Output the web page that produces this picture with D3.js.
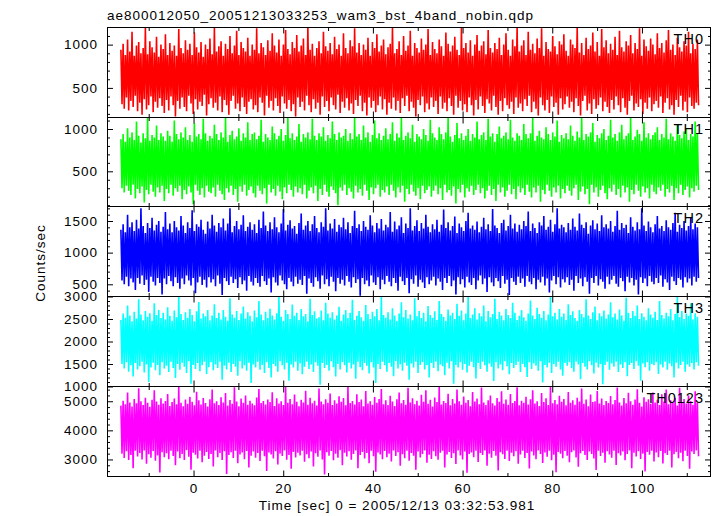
<!DOCTYPE html>
<html><head><meta charset="utf-8">
<script src="https://cdn.jsdelivr.net/npm/d3@7"></script>
<style>
body{margin:0;background:#fff;}
svg text{font-family:"Liberation Sans",Arial,Helvetica,sans-serif;fill:#000;}
</style>
</head><body>
<svg id="chart" width="717" height="516"></svg>
<script>
// ---------------- data ----------------
const titleText = "ae800012050_20051213033253_wam3_bst_4band_nobin.qdp";
const xLabelText = "Time [sec] 0 = 2005/12/13 03:32:53.981";
const yLabelText = "Counts/sec";
const panelNames = ["TH0", "TH1", "TH2", "TH3", "TH0123"];
const panelColors = ["#ff0000", "#00ff00", "#0000ff", "#00ffff", "#ff00ff"];
const xDomain = [-19.3, 115.4];
const xTickValues = [0, 20, 40, 60, 80, 100];
const xMinorValues = [-10, 10, 30, 50, 70, 90, 110];
const yDomains = [[158, 1198], [84, 1136], [307, 1729], [1000, 3000], [2414, 5507]];
const yTickValues = [[500, 1000], [500, 1000], [500, 1000, 1500], [1000, 1500, 2000, 2500, 3000], [3000, 4000, 5000]];
const yMinorStep = [100, 100, 100, 100, 200];
// samples: start time and spacing (sec)
const tStart = -16.2;
const tStep = 0.2482;

const th0 = [
940,310,1010,260,880,390,1060,240,920,350,1150,280,870,410,990,230,1030,330,900,190,960,370,1200,250,890,300,1040,400,970,220,910,340,1090,270,860,380,1000,290,950,210,
1120,360,880,240,1020,400,930,300,990,170,870,350,1180,260,960,390,900,280,1050,230,940,410,1010,320,880,200,1140,370,970,250,910,340,1030,290,860,420,1000,180,950,310,
1070,380,890,270,1200,330,920,240,980,400,1040,220,870,360,1010,300,950,190,1100,350,900,410,990,260,1160,320,880,230,1030,390,960,280,920,200,1080,340,870,370,1000,250,
940,300,1190,220,900,390,1020,330,970,180,880,410,1050,270,930,350,1130,240,990,380,910,290,1060,210,870,400,1000,320,1170,260,950,360,890,230,1030,310,960,170,1110,390,
920,280,990,340,1070,240,880,410,1200,300,940,220,1010,370,870,260,960,330,1040,190,900,400,1150,280,980,350,930,230,1020,390,890,300,1090,250,950,420,1000,210,870,340,
1130,270,960,380,900,240,1050,320,980,200,1190,360,910,290,1020,410,880,230,1000,330,940,180,1080,390,870,270,1030,350,960,220,1120,300,920,400,990,250,1060,370,890,190,
970,330,1010,260,1200,390,900,240,950,350,1040,210,880,380,1100,290,930,410,990,230,1160,340,870,270,1020,170,960,360,910,300,1070,400,940,220,1000,320,1180,250,880,390,
1030,280,950,350,900,200,1060,400,980,260,870,330,1140,230,1010,380,920,290,990,190,1090,410,940,270,880,350,1200,240,960,310,1020,220,910,390,1050,300,870,180,1000,360,
1110,250,930,400,990,290,1040,210,890,370,1170,320,960,240,910,410,1020,280,950,190,1080,350,880,230,1000,380,1130,300,940,260,870,340,1060,200,980,390,1200,270,920,320,
990,230,1050,370,880,290,1150,410,940,220,1010,340,900,260,1070,180,960,390,1190,300,870,240,1030,360,950,210,920,400,1100,280,980,330,890,190,1040,380,1000,250,1120,310,
930,400,870,270,1060,340,1000,220,960,380,1200,290,910,180,1020,350,880,410,1080,240,950,320,990,200,1140,370,920,260,1030,300,870,390,1180,230,970,340,1050,280,900,210,
1010,360,940,250,1090,400,880,300,1160,220,970,380,920,270,1040,190,990,350,1110,410,900,240,1020,320,950,280,1190,370,870,200,1060,330,980,260,930,390,1070,230,1000,310,
890,350,1130,270,960,400,1020,210,910,330,1050,380,1170,250,940,300,1000,190,880,360,1080,280,970,410,920,240,1040,340,990,220,1150,390,900,290,1010,260,950,330,1060,300
];
const th1 = [
880,300,940,250,850,330,1010,270,900,220,960,340,870,180,1090,290,920,240,840,320,950,130,890,280,1130,230,860,340,930,260,900,200,1040,310,870,250,950,330,910,150,
860,290,980,240,920,340,850,210,1100,300,940,260,880,330,960,170,900,280,1020,230,870,320,930,250,850,110,1070,340,910,270,940,220,880,300,1120,190,950,330,860,260,
920,240,890,310,1050,200,940,340,870,270,960,230,900,160,1130,300,850,250,930,330,980,220,880,290,910,140,1010,320,860,260,950,340,900,210,1080,280,870,320,940,240,
960,190,880,330,920,270,1110,230,850,300,940,120,900,340,870,250,1030,290,950,210,880,330,920,260,1000,170,860,310,930,240,1130,340,890,280,950,200,870,320,910,250,
1060,300,850,230,940,340,900,180,960,270,880,310,1120,240,920,330,870,150,950,290,910,220,1020,340,860,260,930,200,890,320,1090,280,940,240,870,100,960,310,900,270,
920,340,1000,220,860,300,950,260,880,180,1130,330,910,250,940,290,870,210,1040,340,900,270,960,160,850,310,930,230,1100,300,890,340,950,200,870,280,920,250,1010,320,
880,220,940,340,1080,270,860,190,950,310,900,250,1130,330,870,140,920,290,960,230,890,340,1050,260,850,210,940,300,910,170,880,330,1000,240,930,280,860,320,1110,200,
950,270,900,330,870,230,1020,300,940,160,880,340,960,250,1130,280,910,210,850,320,930,120,1070,290,890,250,950,340,870,190,920,300,1000,260,860,330,940,220,900,280,
1090,340,880,240,930,300,960,180,870,270,1120,330,910,220,950,290,850,150,940,340,1030,250,890,310,920,200,960,270,880,340,1110,230,900,290,860,170,950,320,920,250,
870,300,1060,220,940,340,890,260,950,190,1130,310,860,250,920,330,980,140,900,280,880,230,1020,340,940,270,870,200,960,310,910,250,1100,330,850,180,930,290,890,240,
950,330,880,270,1040,210,920,300,860,340,970,160,900,260,1130,320,870,230,940,290,910,110,960,340,1070,250,850,310,930,200,890,280,950,330,1000,240,870,170,920,300,
1110,260,900,340,940,220,860,290,960,190,1050,330,880,250,920,310,950,140,1130,280,870,230,910,340,990,270,940,200,860,320,1080,250,900,300,950,180,880,340,930,260,
960,230,1020,310,870,270,940,340,900,200,1120,290,880,250,950,330,910,160,860,300,1060,240,930,340,890,220,970,280,1000,320,870,190,940,300,910,260,1090,330,950,280
];
const th2 = [
1360,560,1450,500,1320,620,1600,470,1400,590,1480,530,1340,410,1520,600,1380,510,1700,640,1420,490,1310,570,1470,380,1390,620,1550,540,1350,480,1440,600,1500,520,1330,340,1410,590,
1640,500,1370,630,1460,550,1320,470,1500,610,1400,520,1350,430,1580,590,1430,500,1310,640,1480,560,1390,480,1670,600,1340,360,1450,530,1410,620,1520,490,1360,570,1300,450,1490,610,
1380,530,1600,580,1430,470,1330,640,1470,510,1400,330,1540,600,1350,550,1460,490,1700,620,1320,520,1420,580,1500,440,1370,610,1440,500,1590,560,1340,400,1410,630,1480,540,1360,480,
1450,600,1310,520,1520,460,1390,630,1650,550,1430,490,1340,590,1480,370,1370,610,1560,530,1400,480,1320,640,1460,560,1690,500,1350,420,1440,600,1510,540,1380,470,1420,620,1300,510,
1470,570,1620,490,1360,630,1430,350,1500,590,1340,520,1450,460,1580,610,1390,550,1320,430,1480,640,1410,500,1700,580,1350,470,1460,620,1380,540,1530,390,1330,600,1440,510,1400,570,
1550,480,1370,630,1480,540,1310,450,1420,610,1660,520,1390,580,1450,320,1340,600,1500,500,1410,560,1360,470,1590,640,1430,530,1320,490,1470,610,1380,420,1530,570,1350,500,1440,630,
1400,540,1640,470,1330,600,1490,520,1370,400,1430,620,1560,550,1310,490,1460,600,1390,360,1700,580,1350,510,1420,640,1510,460,1340,570,1470,530,1380,440,1600,610,1410,500,1320,560,
1450,620,1370,480,1520,590,1330,540,1440,410,1680,600,1390,520,1480,630,1350,470,1420,560,1570,340,1310,610,1460,500,1400,580,1340,450,1500,620,1630,530,1380,490,1430,600,1360,420,
1490,560,1320,640,1410,500,1550,590,1370,380,1450,610,1340,530,1690,470,1430,600,1390,550,1310,440,1470,630,1520,510,1350,570,1420,330,1600,600,1380,540,1460,490,1330,620,1440,520,
1370,590,1500,460,1420,630,1650,540,1340,500,1460,600,1390,420,1310,570,1480,530,1430,620,1580,480,1360,590,1410,370,1520,560,1330,630,1450,500,1700,610,1380,450,1440,580,1400,530,
1320,610,1470,490,1360,570,1540,400,1410,630,1350,520,1620,590,1440,470,1390,610,1480,540,1300,350,1430,600,1510,520,1370,630,1460,480,1340,580,1590,540,1400,430,1450,620,1380,500,
1500,570,1330,630,1420,510,1660,460,1360,600,1470,550,1390,390,1440,620,1310,530,1560,600,1410,480,1350,570,1480,340,1370,610,1700,520,1430,590,1340,470,1490,630,1400,540,1320,500,
1450,600,1580,520,1380,640,1420,460,1340,580,1510,530,1400,410,1360,620,1470,550,1630,490,1330,600,1440,570,1390,450,1500,610,1350,530,1420,590,1560,480,1370,620,1460,540,1400,600
];
const th3 = [
2480,1500,2620,1400,2530,1540,2800,1330,2580,1470,2450,1220,2660,1520,2510,1380,2940,1450,2600,1550,2470,1310,2680,1490,2550,1100,2630,1420,2460,1530,2850,1360,2590,1480,2700,1250,2520,1540,2640,1400,
2490,1460,2760,1320,2570,1550,2460,1410,2690,1190,2540,1500,2990,1370,2610,1530,2480,1440,2650,1300,2530,1560,2720,1060,2590,1480,2450,1390,2670,1520,2880,1340,2510,1470,2620,1550,2560,1280,2700,1430,
2470,1540,2580,1360,2830,1490,2520,1410,2640,1550,2490,1150,2700,1460,2550,1380,2460,1530,2960,1320,2600,1500,2530,1440,2680,1240,2480,1560,2620,1400,2780,1470,2510,1350,2650,1530,2570,1080,2450,1490,
2690,1420,2540,1550,2900,1370,2600,1480,2470,1300,2660,1540,2520,1410,2730,1200,2580,1500,2490,1450,2630,1330,3000,1560,2550,1470,2460,1380,2700,1530,2610,1130,2500,1490,2820,1420,2570,1550,2640,1350,
2480,1510,2720,1270,2560,1440,2610,1550,2450,1390,2950,1490,2590,1320,2670,1540,2510,1460,2540,1040,2690,1520,2470,1410,2860,1480,2620,1350,2530,1560,2650,1430,2490,1220,2580,1500,2770,1380,2460,1540,
2600,1470,2700,1310,2520,1530,2640,1400,2930,1490,2480,1170,2570,1550,2680,1430,2540,1360,2460,1520,2810,1460,2610,1290,2500,1540,2660,1420,2560,1080,2720,1500,2470,1390,2990,1550,2590,1470,2530,1330,
2650,1520,2490,1440,2740,1230,2580,1560,2460,1400,2620,1490,2870,1350,2540,1530,2700,1460,2510,1150,2600,1510,2470,1420,2960,1550,2560,1300,2680,1480,2520,1540,2640,1380,2450,1470,2790,1200,2590,1520,
2530,1410,2670,1550,2480,1340,2900,1490,2610,1450,2550,1250,2460,1530,2710,1400,2580,1560,2640,1060,2500,1480,2840,1420,2570,1540,2690,1370,2470,1500,2620,1310,3000,1460,2520,1550,2600,1430,2740,1180,
2490,1520,2630,1390,2560,1550,2800,1470,2450,1330,2680,1510,2540,1440,2610,1120,2950,1540,2500,1400,2660,1490,2580,1360,2470,1560,2720,1450,2590,1270,2520,1520,2860,1410,2640,1480,2480,1550,2570,1320,
2700,1500,2540,1430,2460,1210,2620,1540,2910,1390,2580,1510,2500,1460,2750,1350,2610,1560,2530,1090,2680,1480,2470,1420,2600,1530,2990,1300,2560,1500,2640,1440,2490,1550,2720,1380,2550,1240,2620,1520,
2480,1460,2830,1540,2590,1410,2670,1330,2520,1550,2460,1490,2700,1160,2610,1520,2540,1440,2940,1380,2580,1560,2500,1470,2650,1290,2780,1530,2470,1420,2630,1500,2560,1050,2690,1480,2510,1550,2600,1370,
2870,1510,2540,1440,2620,1550,2490,1320,2710,1490,2580,1410,2460,1540,2970,1230,2640,1480,2520,1520,2680,1390,2570,1560,2800,1460,2500,1130,2630,1510,2550,1430,2470,1540,2740,1350,2600,1500,2530,1470,
2660,1540,2480,1280,2900,1490,2590,1420,2510,1550,2640,1370,2560,1510,2720,1450,2470,1200,2610,1530,2990,1400,2540,1480,2680,1550,2500,1330,2620,1490,2570,1440,2850,1520,2490,1380,2630,1540,2550,1460
];
const th0123 = [
4850,3200,5020,3050,4900,3280,5300,2980,4960,3150,4820,2700,5080,3300,4930,3100,5450,3220,5000,3000,4870,3310,5120,2850,4950,3180,4810,3060,5050,3290,5380,2960,4990,3140,4880,2550,5100,3250,4920,3080,
5010,3210,5250,3010,4840,3300,4970,3120,5090,2800,4900,3270,5500,3040,4950,3190,4830,2980,5060,3320,4910,3090,5150,2650,4980,3230,4860,3160,5330,3030,5030,3300,4890,2900,5110,3130,4940,3260,4820,3020,
5070,3190,5400,2760,4930,3310,5000,3080,4870,3220,5140,2980,4960,3280,5280,2500,4850,3150,5040,3250,4910,3050,5480,3300,4990,2870,4830,3170,5090,3240,4950,3010,5200,3290,4880,2720,5020,3130,4920,3270,
4860,3060,5130,3220,5420,2950,4940,3300,5010,3110,4890,2600,5060,3240,4970,3170,5310,3030,4840,3280,5100,2830,4920,3200,5000,3120,4870,3310,5500,2990,4950,3150,5080,2680,4900,3260,5230,3070,4980,3230,
4830,3140,5050,3300,4960,2920,5360,3180,4880,3040,5120,3270,4930,2760,5020,3210,4850,3090,5440,3310,4990,3000,4900,2480,5070,3250,4950,3130,5270,3290,4870,2970,5030,3200,4920,3060,5170,3320,4980,2800,
5110,3230,4860,3100,5490,3280,4940,2990,5010,3190,4890,3310,5240,2700,4970,3150,5060,3260,4830,3030,5350,3220,4920,2870,5000,3300,4880,3110,5150,2580,4950,3240,5080,3170,5420,3010,4900,3290,5030,3080,
4870,3200,5190,2930,4990,3310,4840,3120,5070,3250,5300,2780,4930,3180,5040,3040,4880,3300,5460,2960,4960,3220,5100,3130,4900,2650,5020,3270,4850,3070,5220,3190,4980,3310,5380,2890,4910,3160,5050,3020,
4820,3280,5130,3110,4970,2990,5500,3230,4890,3300,5010,2720,4940,3170,5260,3260,4860,3050,5080,3210,4920,2840,5400,3310,5000,3140,4880,3000,5160,3270,4950,2540,5040,3190,4830,3240,5320,3080,4990,3300,
5090,2910,4900,3220,5470,3150,4960,3310,4870,2780,5030,3200,5200,3060,4930,3290,4850,3130,5110,2620,4980,3250,5340,3180,4910,3020,5060,3300,4880,2950,5250,3230,4940,3110,5010,3280,5480,2850,4860,3170,
5020,3300,4950,3050,5150,3220,4890,2690,5070,3270,5380,3140,4920,3010,5000,3310,4840,3190,5280,2880,4970,3240,5100,3090,4870,3300,5500,2970,4930,3160,5040,2560,4900,3260,5190,3200,4980,3040,5080,3290,
4860,3130,5320,2900,4950,3250,5030,3310,4880,3070,5120,2750,4990,3210,5440,3290,4910,3150,5060,2980,4830,3270,5230,3190,4970,3030,5000,2640,5350,3300,4920,3120,5090,3230,4870,2890,5010,3280,4940,3170,
5180,3060,4900,3300,5040,2810,5470,3210,4960,3140,4850,3270,5110,2970,4930,3190,5290,3310,5000,2700,4880,3230,5060,3100,5410,3280,4950,3020,4820,3200,5140,2590,4980,3260,5070,3160,4910,3300,5300,2930,
4960,3240,5050,3080,4870,3290,5240,2860,4990,3210,5400,3150,4900,3300,5030,2720,4940,3180,5120,3260,4850,3040,5460,3230,4970,2940,5080,3300,4920,3120,5200,2680,5010,3270,4880,3190,5340,3310,4950,3110
];
const seriesList = [th0, th1, th2, th3, th0123];

// ---------------- layout ----------------
const plotLeft = 107, plotRight = 711;
const plotTop = 27.3, plotBottom = 476;
const nP = panelNames.length;
const snap = v => Math.round(v - 0.5) + 0.5;
const edges = d3.range(nP + 1).map(i => snap(plotTop + i * (plotBottom - plotTop) / nP));

const svg = d3.select("#chart");
const x = d3.scaleLinear().domain(xDomain).range([plotLeft, plotRight]);
const FS = 13.5, LS = 1;

svg.append("text").attr("x", plotLeft).attr("y", 20)
  .attr("font-size", FS).attr("letter-spacing", LS).text(titleText);

function styleAxis(g) {
  g.select(".domain").remove();
  g.selectAll(".tick line").attr("stroke", "#000").attr("stroke-width", 1);
  return g;
}
function styleLabels(g) {
  g.selectAll(".tick text").attr("font-size", FS).attr("letter-spacing", LS)
    .attr("font-family", "Liberation Sans, Arial, sans-serif").attr("fill", "#000");
}

seriesList.forEach((vals, p) => {
  const top = edges[p], bot = edges[p + 1];
  const y = d3.scaleLinear().domain(yDomains[p]).range([bot, top]);
  const clipId = "clip" + p;
  svg.append("clipPath").attr("id", clipId).append("rect")
    .attr("x", plotLeft).attr("y", top).attr("width", plotRight - plotLeft).attr("height", bot - top);
  const g = svg.append("g").attr("clip-path", `url(#${clipId})`);
  const line = d3.line().x((d, i) => x(tStart + i * tStep)).y(d => y(d));
  g.append("path").datum(vals).attr("d", line).attr("fill", "none")
    .attr("stroke", panelColors[p]).attr("stroke-width", 1.6).attr("stroke-linejoin", "bevel");

  // y axis ticks (left labelled, right mirrored)
  const minor = d3.range(Math.ceil(yDomains[p][0] / yMinorStep[p]) * yMinorStep[p], yDomains[p][1] + 0.001, yMinorStep[p])
    .filter(v => !yTickValues[p].includes(v));
  const gl = styleAxis(svg.append("g").attr("transform", `translate(${plotLeft},0)`)
    .call(d3.axisLeft(y).tickValues(yTickValues[p]).tickSize(-6).tickPadding(9).tickFormat(d3.format("d"))));
  styleLabels(gl);
  styleAxis(svg.append("g").attr("transform", `translate(${plotLeft},0)`)
    .call(d3.axisLeft(y).tickValues(minor).tickSize(-3).tickFormat("")));
  styleAxis(svg.append("g").attr("transform", `translate(${plotRight},0)`)
    .call(d3.axisRight(y).tickValues(yTickValues[p]).tickSize(-6).tickFormat("")));
  styleAxis(svg.append("g").attr("transform", `translate(${plotRight},0)`)
    .call(d3.axisRight(y).tickValues(minor).tickSize(-3).tickFormat("")));

  // x ticks on top & bottom of each panel
  styleAxis(svg.append("g").attr("transform", `translate(0,${top})`)
    .call(d3.axisTop(x).tickValues(xTickValues).tickSize(-6).tickFormat("")));
  styleAxis(svg.append("g").attr("transform", `translate(0,${top})`)
    .call(d3.axisTop(x).tickValues(xMinorValues).tickSize(-3.5).tickFormat("")));
  const gb = styleAxis(svg.append("g").attr("transform", `translate(0,${bot})`)
    .call(d3.axisBottom(x).tickValues(xTickValues).tickSize(-6).tickPadding(7)
      .tickFormat(p === nP - 1 ? d3.format("d") : "")));
  styleLabels(gb);
  styleAxis(svg.append("g").attr("transform", `translate(0,${bot})`)
    .call(d3.axisBottom(x).tickValues(xMinorValues).tickSize(-3.5).tickFormat("")));

  // frame
  svg.append("rect").attr("x", plotLeft + 0.5).attr("y", top).attr("width", plotRight - plotLeft - 1)
    .attr("height", bot - top).attr("fill", "none").attr("stroke", "#000").attr("stroke-width", 1);

  // panel label
  svg.append("text").attr("x", 704).attr("y", top + 16).attr("text-anchor", "end")
    .attr("font-size", 14.5).attr("letter-spacing", LS).text(panelNames[p]);
});

svg.append("text").attr("x", 397).attr("y", 510).attr("text-anchor", "middle")
  .attr("font-size", FS).attr("letter-spacing", LS).text(xLabelText);
svg.append("text").attr("transform", "translate(45,263) rotate(-90)").attr("text-anchor", "middle")
  .attr("font-size", FS).attr("letter-spacing", LS).text(yLabelText);
</script>
</body></html>
